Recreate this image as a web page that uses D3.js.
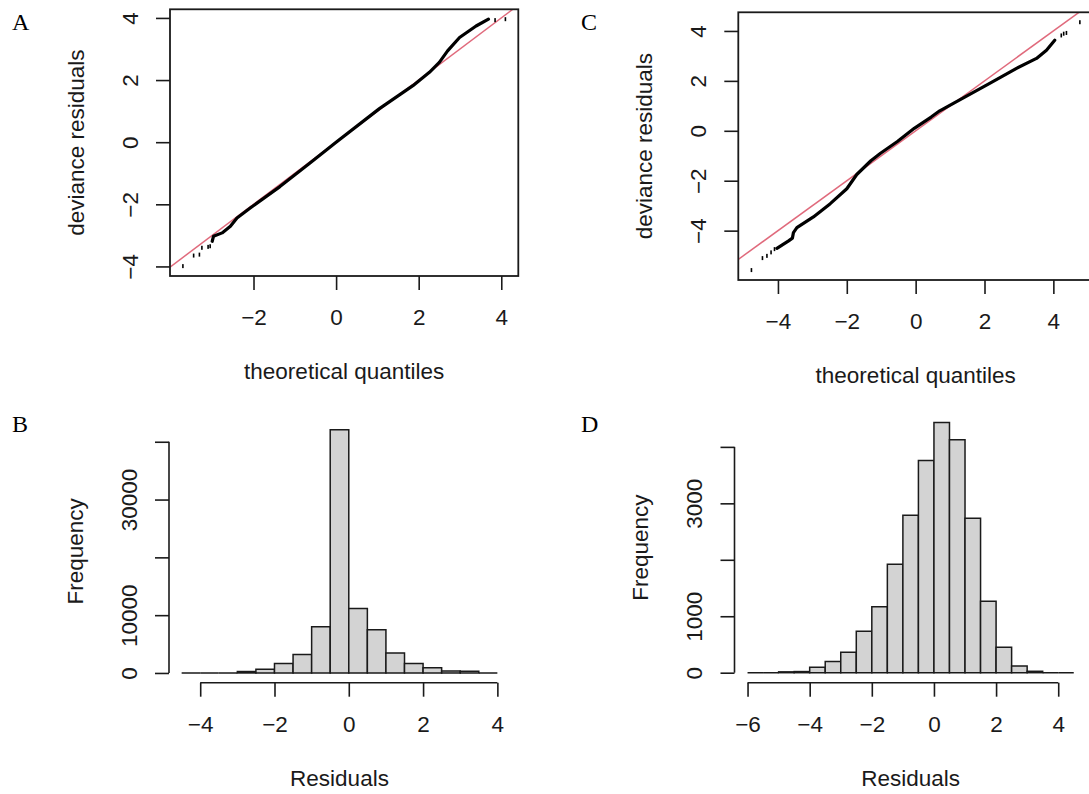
<!DOCTYPE html>
<html>
<head>
<meta charset="utf-8">
<script src="https://cdn.jsdelivr.net/npm/d3@7"></script>
<style>
  body { margin: 0; background: #fff; }
  text { font-family: "Liberation Sans", Arial, sans-serif; }
</style>
</head>
<body>
<script>
// ---- data ----
// A: qq plot, model 1 (theoretical quantile, deviance residual)
var qqA_lowTail = [[-3.71,-3.99],[-3.45,-3.65],[-3.31,-3.62],[-3.25,-3.40],[-3.10,-3.37],[-3.05,-3.35]];
var qqA_band = [[-3.0,-3.19],[-2.97,-3.03],[-2.76,-2.92],[-2.56,-2.71],[-2.40,-2.44],[-2.08,-2.12],
  [-1.36,-1.43],[-0.64,-0.68],[0,0],[1.05,1.08],[1.86,1.82],[2.26,2.25],[2.50,2.57],[2.70,2.94],
  [2.99,3.37],[3.39,3.74],[3.69,3.96]];
var qqA_highTail = [[3.85,3.93],[4.10,3.96]];
var qqA_refLine = [0, 1]; // intercept, slope

// C: qq plot, model 2
var qqC_lowTail = [[-4.77,-5.58],[-4.45,-5.10],[-4.32,-5.01],[-4.20,-4.87],[-4.10,-4.74]];
var qqC_band = [[-4.03,-4.71],[-3.85,-4.55],[-3.69,-4.41],[-3.58,-4.30],[-3.55,-4.08],[-3.45,-3.88],
  [-2.97,-3.45],[-2.48,-2.92],[-2.0,-2.32],[-1.71,-1.75],[-1.3,-1.2],[-1.02,-0.9],[-0.53,-0.43],
  [-0.04,0.1],[0.45,0.55],[0.70,0.8],[1.28,1.24],[2.15,1.9],[2.93,2.5],[3.51,2.9],[3.80,3.23],[4.04,3.63]];
var qqC_highTail = [[4.23,3.82],[4.30,3.89],[4.38,3.92],[4.77,4.35]];
var qqC_refLine = [0, 1];

var qqXTicksA = [-2, 0, 2, 4];
var qqXTicksC = [-4, -2, 0, 2, 4];
var qqYTicks = [-4, -2, 0, 2, 4];

// B: histogram of residuals, model 1
var histB_breaks = [-4.5,-4,-3.5,-3,-2.5,-2,-1.5,-1,-0.5,0,0.5,1,1.5,2,2.5,3,3.5,4];
var histB_counts = [0,0,0,250,640,1620,3180,7980,42080,11160,7460,3470,1620,900,320,280,0];
var histB_xTicks = [-4,-2,0,2,4];
var histB_yTicks = [0,10000,20000,30000,40000];
var histB_yLabels = ["0","10000","","30000",""];

// D: histogram of residuals, model 2
var histD_breaks = [-6,-5.5,-5,-4.5,-4,-3.5,-3,-2.5,-2,-1.5,-1,-0.5,0,0.5,1,1.5,2,2.5,3,3.5,4,4.5];
var histD_counts = [0,0,15,20,95,200,360,735,1170,1920,2790,3760,4430,4125,2735,1265,450,120,25,0,0];
var histD_xTicks = [-6,-4,-2,0,2,4];
var histD_yTicks = [0,1000,2000,3000,4000];
var histD_yLabels = ["0","1000","","3000",""];

// ---- drawing ----
var W = 1089, H = 794;
var ink = "#1a1a1a", fs = 22.5;
var svg = d3.select("body").append("svg").attr("width", W).attr("height", H);
var fmt = d3.format("");

// R style 4% padding of the data range
function rPad(ext) { var w = ext[1] - ext[0]; return [ext[0] - 0.04 * w, ext[1] + 0.04 * w]; }

function styleAxis(a) {
  a.attr("font-family", null).attr("font-size", null);
  a.select(".domain").remove();
  a.selectAll("line").attr("stroke", ink).attr("stroke-width", 1.6);
  a.selectAll("text").attr("fill", ink).style("font-size", fs + "px");
}

function leftAxis(g, y, ticks, labels, x0) {
  var a = g.append("g").attr("transform", "translate(" + x0 + ",0)")
    .call(d3.axisLeft(y).tickValues(ticks).tickSize(14).tickSizeOuter(0)
      .tickFormat(function (d, i) { return labels ? labels[i] : fmt(d); }));
  styleAxis(a);
  a.selectAll("text").attr("x", null).attr("dy", "0.35em").attr("text-anchor", "middle")
    .attr("transform", "translate(-40,0) rotate(-90)");
}

function bottomAxis(g, x, ticks, y0) {
  var a = g.append("g").attr("transform", "translate(0," + y0 + ")")
    .call(d3.axisBottom(x).tickValues(ticks).tickSize(14).tickSizeOuter(0).tickFormat(fmt));
  styleAxis(a);
  a.selectAll("text").attr("y", 41).attr("dy", "0.35em");
}

function titles(g, box, xt, yt) {
  g.append("text").attr("x", (box.l + box.r) / 2).attr("y", box.b + 95).attr("dy", "0.35em")
    .attr("text-anchor", "middle").attr("fill", ink).style("font-size", fs + "px").text(xt);
  g.append("text").attr("transform", "translate(" + (box.l - 94) + "," + ((box.t + box.b) / 2) + ") rotate(-90)")
    .attr("dy", "0.35em").attr("text-anchor", "middle").attr("fill", ink).style("font-size", fs + "px").text(yt);
}

function panelLetter(letter, x, y) {
  svg.append("text").attr("x", x).attr("y", y).attr("fill", "#000")
    .style("font-family", "'Liberation Serif','Times New Roman',serif").style("font-size", "24px").text(letter);
}

function drawQQ(id, box, low, band, high, ref, xTicks) {
  var all = low.concat(band, high);
  var x = d3.scaleLinear().domain(rPad(d3.extent(all, function (d) { return d[0]; }))).range([box.l, box.r]);
  var y = d3.scaleLinear().domain(rPad(d3.extent(all, function (d) { return d[1]; }))).range([box.b, box.t]);
  var g = svg.append("g");
  g.append("clipPath").attr("id", "clip" + id).append("rect")
    .attr("x", box.l).attr("y", box.t).attr("width", box.r - box.l).attr("height", box.b - box.t);
  var plot = g.append("g").attr("clip-path", "url(#clip" + id + ")");
  var xd = x.domain();
  plot.append("line")
    .attr("x1", x(xd[0])).attr("y1", y(ref[0] + ref[1] * xd[0]))
    .attr("x2", x(xd[1])).attr("y2", y(ref[0] + ref[1] * xd[1]))
    .attr("stroke", "#E06A7C").attr("stroke-width", 1.5);
  plot.append("path").datum(band)
    .attr("d", d3.line().x(function (d) { return x(d[0]); }).y(function (d) { return y(d[1]); }))
    .attr("fill", "none").attr("stroke", "#000").attr("stroke-width", 3.2)
    .attr("stroke-linejoin", "round").attr("stroke-linecap", "round");
  plot.selectAll("rect.pt").data(low.concat(high)).enter().append("rect").attr("class", "pt")
    .attr("x", function (d) { return x(d[0]) - 0.8; }).attr("y", function (d) { return y(d[1]) - 2; })
    .attr("width", 1.6).attr("height", 4).attr("fill", "#000");
  g.append("rect").attr("x", box.l).attr("y", box.t).attr("width", box.r - box.l).attr("height", box.b - box.t)
    .attr("fill", "none").attr("stroke", ink).attr("stroke-width", 1.8);
  leftAxis(g, y, qqYTicks, null, box.l);
  bottomAxis(g, x, xTicks, box.b);
  titles(g, box, "theoretical quantiles", "deviance residuals");
}

function drawHist(box, breaks, counts, xTicks, yTicks, yLabels) {
  var x = d3.scaleLinear().domain(rPad(d3.extent(breaks))).range([box.l, box.r]);
  var y = d3.scaleLinear().domain(rPad([0, d3.max(counts)])).range([box.b, box.t]);
  var g = svg.append("g");
  g.selectAll("path.bar").data(counts).enter().append("path").attr("class", "bar")
    .attr("d", function (c, i) {
      var x0 = x(breaks[i]), x1 = x(breaks[i + 1]), y0 = y(0), y1 = y(c);
      return "M" + x0 + "," + y0 + "V" + y1 + "H" + x1 + "V" + y0 + "Z";
    })
    .attr("fill", "#D3D3D3").attr("stroke", ink).attr("stroke-width", 1.5);
  // axis lines span first to last tick, like R
  g.append("line").attr("x1", box.l).attr("x2", box.l)
    .attr("y1", y(yTicks[0])).attr("y2", y(yTicks[yTicks.length - 1]))
    .attr("stroke", ink).attr("stroke-width", 1.6);
  g.append("line").attr("y1", box.b).attr("y2", box.b)
    .attr("x1", x(xTicks[0])).attr("x2", x(xTicks[xTicks.length - 1]))
    .attr("stroke", ink).attr("stroke-width", 1.6);
  leftAxis(g, y, yTicks, yLabels, box.l);
  bottomAxis(g, x, xTicks, box.b);
  titles(g, box, "Residuals", "Frequency");
}

drawQQ("A", {l: 170, r: 518.3, t: 9.3, b: 276}, qqA_lowTail, qqA_band, qqA_highTail, qqA_refLine, qqXTicksA);
drawQQ("C", {l: 738.3, r: 1093, t: 12.3, b: 280}, qqC_lowTail, qqC_band, qqC_highTail, qqC_refLine, qqXTicksC);
drawHist({l: 169, r: 510, t: 420, b: 682.7}, histB_breaks, histB_counts, histB_xTicks, histB_yTicks, histB_yLabels);
drawHist({l: 734.5, r: 1086.8, t: 412.6, b: 682.7}, histD_breaks, histD_counts, histD_xTicks, histD_yTicks, histD_yLabels);

panelLetter("A", 12, 29.5);
panelLetter("B", 12, 432);
panelLetter("C", 581, 29.5);
panelLetter("D", 581, 432);
</script>
</body>
</html>
